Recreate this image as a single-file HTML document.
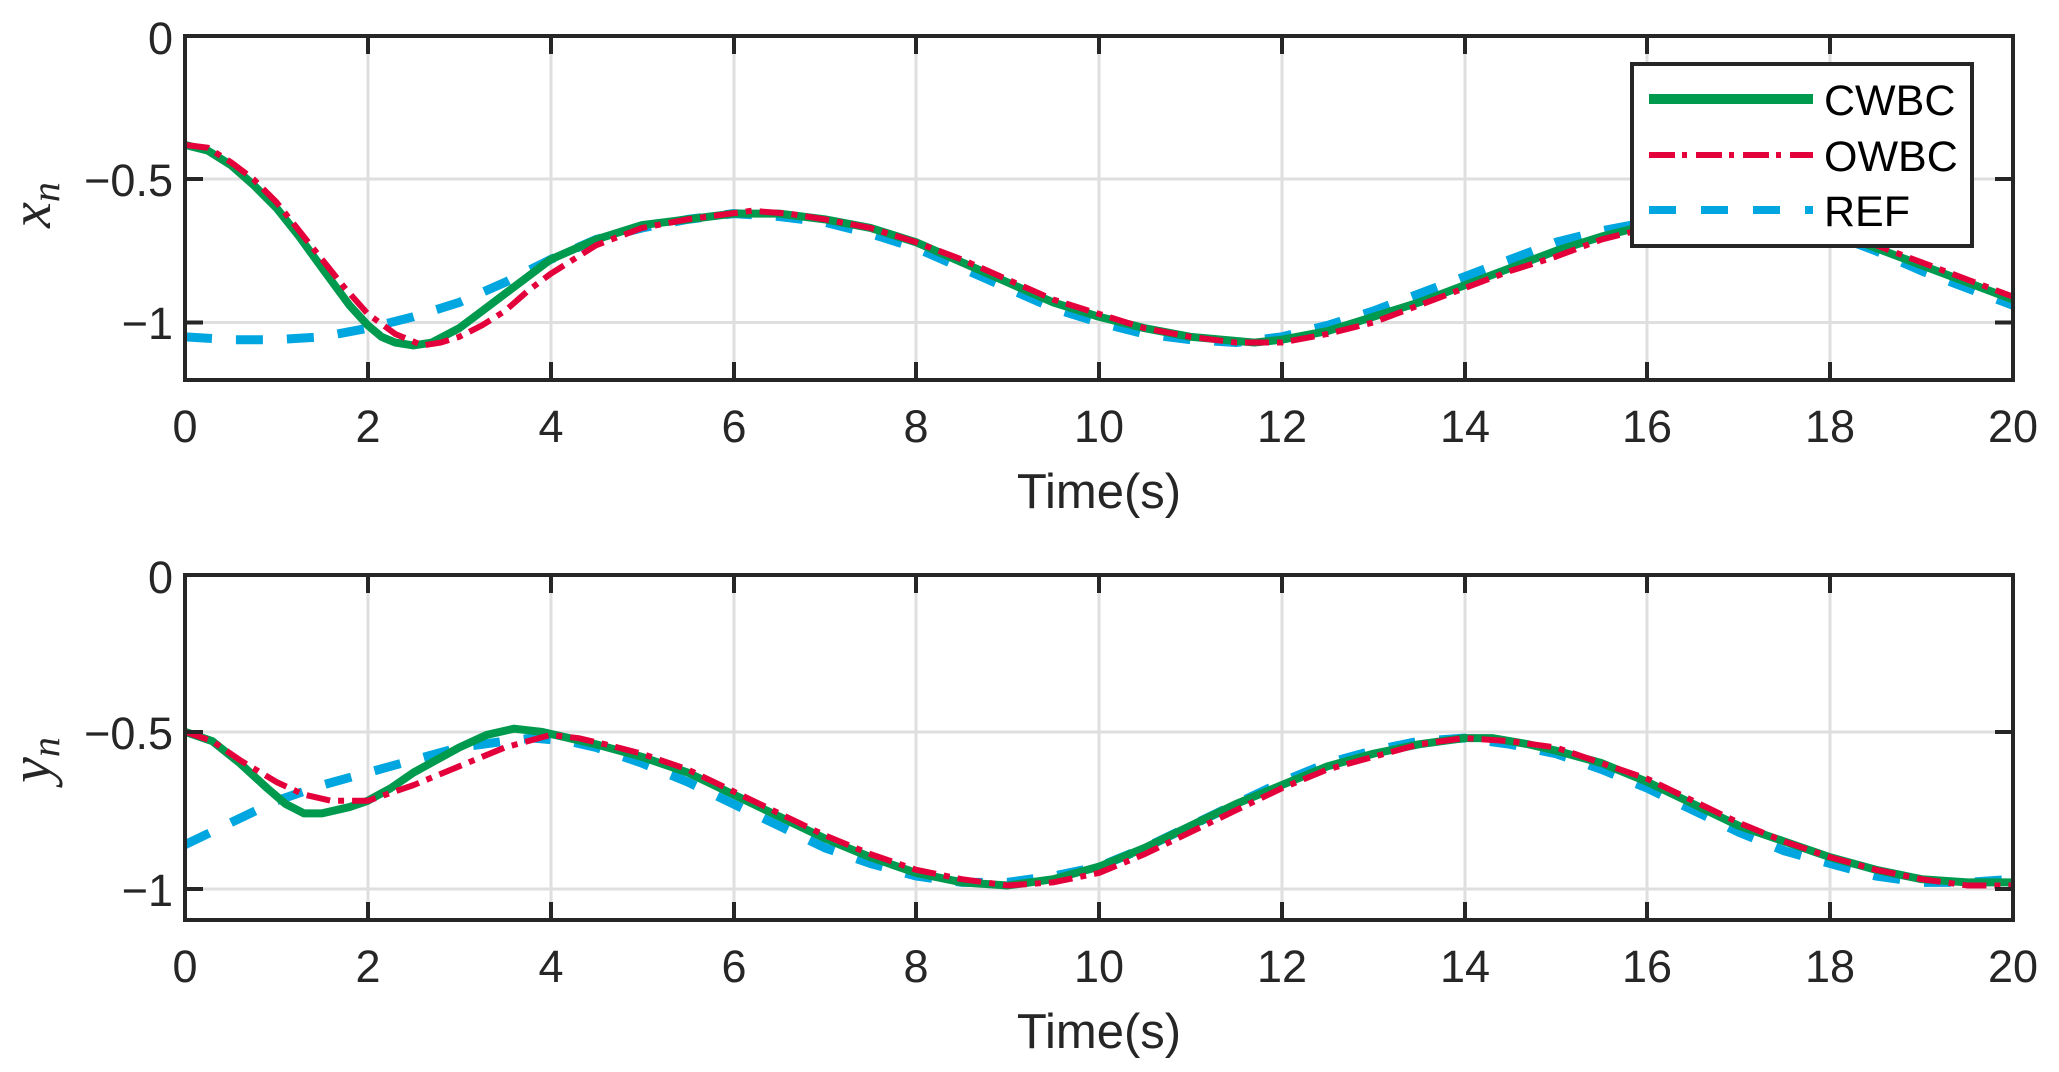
<!DOCTYPE html>
<html><head><meta charset="utf-8"><style>
html,body{margin:0;padding:0;background:#fff;}
svg{display:block;}
text{font-family:"Liberation Sans",Arial,sans-serif;fill:#262626;}
</style></head><body>
<svg width="2059" height="1072" viewBox="0 0 2059 1072" xmlns="http://www.w3.org/2000/svg">
<rect width="2059" height="1072" fill="#fff"/>
<!-- ===== Upper plot ===== -->
<g stroke="#dfdfdf" stroke-width="3">
<line x1="368" y1="36" x2="368" y2="380"/><line x1="551" y1="36" x2="551" y2="380"/><line x1="734" y1="36" x2="734" y2="380"/><line x1="916" y1="36" x2="916" y2="380"/><line x1="1099" y1="36" x2="1099" y2="380"/><line x1="1282" y1="36" x2="1282" y2="380"/><line x1="1465" y1="36" x2="1465" y2="380"/><line x1="1647" y1="36" x2="1647" y2="380"/><line x1="1830" y1="36" x2="1830" y2="380"/>
<line x1="185" y1="179" x2="2013" y2="179"/><line x1="185" y1="322.5" x2="2013" y2="322.5"/>
</g>
<g fill="none" stroke-linejoin="round" transform="matrix(91.4 0 0 -286.5 185 36)">
<polyline vector-effect="non-scaling-stroke" stroke="#00a6e0" stroke-width="9" stroke-dasharray="27 24" points="0,-1.05 0.5,-1.06 1,-1.06 1.5,-1.05 2,-1.02 2.5,-0.98 3,-0.93 3.5,-0.86 4,-0.78 4.5,-0.71 5,-0.67 5.5,-0.64 6,-0.62 6.5,-0.63 7,-0.65 7.5,-0.69 8,-0.74 8.5,-0.81 9,-0.88 9.5,-0.95 10,-1.0 10.5,-1.04 11,-1.06 11.5,-1.07 12,-1.05 12.5,-1.01 13,-0.96 13.5,-0.9 14,-0.84 14.5,-0.78 15,-0.72 15.5,-0.68 16,-0.65 16.5,-0.63 17,-0.63 17.5,-0.65 18,-0.69 18.5,-0.75 19,-0.82 19.5,-0.88 20,-0.94"/>
<polyline vector-effect="non-scaling-stroke" stroke="#009a4e" stroke-width="8" points="0,-0.38 0.25,-0.4 0.5,-0.45 0.75,-0.52 1,-0.6 1.25,-0.7 1.5,-0.81 1.8,-0.94 2,-1.01 2.15,-1.05 2.3,-1.07 2.5,-1.08 2.7,-1.07 3,-1.02 3.25,-0.96 3.5,-0.9 3.75,-0.84 4,-0.78 4.5,-0.71 5,-0.66 5.5,-0.64 6,-0.62 6.5,-0.62 7,-0.64 7.5,-0.67 8,-0.72 8.5,-0.79 9,-0.86 9.5,-0.93 10,-0.98 10.5,-1.02 11,-1.05 11.7,-1.07 12,-1.06 12.5,-1.03 13,-0.98 13.5,-0.93 14,-0.87 14.5,-0.81 15,-0.75 15.5,-0.7 16,-0.66 16.5,-0.63 17,-0.63 17.5,-0.64 18,-0.68 18.5,-0.74 19,-0.8 19.5,-0.86 20,-0.92"/>
<polyline vector-effect="non-scaling-stroke" stroke="#e4003a" stroke-width="6" stroke-dasharray="24 8 6 8" points="0,-0.38 0.25,-0.39 0.5,-0.44 0.75,-0.5 1,-0.58 1.25,-0.68 1.5,-0.78 1.75,-0.88 2,-0.97 2.3,-1.04 2.6,-1.08 2.8,-1.07 3,-1.05 3.25,-1.01 3.5,-0.96 3.75,-0.89 4,-0.83 4.5,-0.73 5,-0.67 5.5,-0.64 6.2,-0.61 6.6,-0.62 7,-0.64 7.5,-0.67 8,-0.72 8.5,-0.78 9,-0.85 9.5,-0.92 10,-0.97 10.5,-1.02 11,-1.05 11.5,-1.07 12,-1.07 12.5,-1.04 13,-1.0 13.5,-0.94 14,-0.88 14.5,-0.82 15,-0.77 15.5,-0.71 16,-0.67 16.5,-0.64 17,-0.63 17.5,-0.64 18,-0.67 18.5,-0.73 19,-0.79 19.5,-0.85 20,-0.91"/>
</g>
<rect x="185" y="36" width="1828" height="344" fill="none" stroke="#262626" stroke-width="4"/>
<g stroke="#262626" stroke-width="4">
<line x1="368" y1="36" x2="368" y2="54"/><line x1="551" y1="36" x2="551" y2="54"/><line x1="734" y1="36" x2="734" y2="54"/><line x1="916" y1="36" x2="916" y2="54"/><line x1="1099" y1="36" x2="1099" y2="54"/><line x1="1282" y1="36" x2="1282" y2="54"/><line x1="1465" y1="36" x2="1465" y2="54"/><line x1="1647" y1="36" x2="1647" y2="54"/><line x1="1830" y1="36" x2="1830" y2="54"/>
<line x1="368" y1="380" x2="368" y2="362"/><line x1="551" y1="380" x2="551" y2="362"/><line x1="734" y1="380" x2="734" y2="362"/><line x1="916" y1="380" x2="916" y2="362"/><line x1="1099" y1="380" x2="1099" y2="362"/><line x1="1282" y1="380" x2="1282" y2="362"/><line x1="1465" y1="380" x2="1465" y2="362"/><line x1="1647" y1="380" x2="1647" y2="362"/><line x1="1830" y1="380" x2="1830" y2="362"/>
<line x1="185" y1="179" x2="203" y2="179"/><line x1="185" y1="322.5" x2="203" y2="322.5"/>
<line x1="2013" y1="179" x2="1995" y2="179"/><line x1="2013" y1="322.5" x2="1995" y2="322.5"/>
</g>
<g font-size="45" text-anchor="middle">
<text x="185" y="442">0</text><text x="368" y="442">2</text><text x="551" y="442">4</text><text x="734" y="442">6</text><text x="916" y="442">8</text><text x="1099" y="442">10</text><text x="1282" y="442">12</text><text x="1465" y="442">14</text><text x="1647" y="442">16</text><text x="1830" y="442">18</text><text x="2013" y="442">20</text>
</g>
<g font-size="45" text-anchor="end">
<text x="173" y="54">0</text><text x="173" y="196">−0.5</text><text x="173" y="339">−1</text>
</g>
<text x="1099" y="508" font-size="49" text-anchor="middle">Time(s)</text>
<text transform="translate(50,205) rotate(-90)" text-anchor="middle" font-style="italic" font-size="58" style="font-family:'Liberation Serif',serif">x<tspan font-size="40" dy="9">n</tspan></text>
<!-- legend -->
<rect x="1632" y="64" width="340" height="182" fill="#fff" stroke="#262626" stroke-width="4"/>
<line x1="1649" y1="99" x2="1813" y2="99" stroke="#009a4e" stroke-width="10"/>
<line x1="1649" y1="155" x2="1813" y2="155" stroke="#e4003a" stroke-width="6" stroke-dasharray="26 7 5 9"/>
<line x1="1649" y1="210" x2="1813" y2="210" stroke="#00a6e0" stroke-width="8" stroke-dasharray="27 25"/>
<g font-size="43"><text x="1824" y="115" style="fill:#000">CWBC</text><text x="1824" y="171" style="fill:#000">OWBC</text><text x="1824" y="226" style="fill:#000">REF</text></g>

<!-- ===== Lower plot ===== -->
<g stroke="#dfdfdf" stroke-width="3">
<line x1="368" y1="575" x2="368" y2="920"/><line x1="551" y1="575" x2="551" y2="920"/><line x1="734" y1="575" x2="734" y2="920"/><line x1="916" y1="575" x2="916" y2="920"/><line x1="1099" y1="575" x2="1099" y2="920"/><line x1="1282" y1="575" x2="1282" y2="920"/><line x1="1465" y1="575" x2="1465" y2="920"/><line x1="1647" y1="575" x2="1647" y2="920"/><line x1="1830" y1="575" x2="1830" y2="920"/>
<line x1="185" y1="732" x2="2013" y2="732"/><line x1="185" y1="889" x2="2013" y2="889"/>
</g>
<g fill="none" stroke-linejoin="round" transform="matrix(91.4 0 0 -313.6 185 575)">
<polyline vector-effect="non-scaling-stroke" stroke="#00a6e0" stroke-width="9" stroke-dasharray="27 24" points="0,-0.86 0.5,-0.79 1,-0.72 1.5,-0.67 2,-0.63 2.5,-0.59 3,-0.55 3.5,-0.53 3.8,-0.52 4.2,-0.53 4.5,-0.55 5,-0.6 5.5,-0.66 6,-0.73 6.5,-0.8 7,-0.87 7.5,-0.92 8,-0.96 8.5,-0.98 9,-0.98 9.5,-0.96 10,-0.93 10.5,-0.87 11,-0.8 11.5,-0.73 12,-0.66 12.5,-0.6 13,-0.56 13.5,-0.53 14,-0.52 14.5,-0.54 15,-0.57 15.5,-0.62 16,-0.68 16.5,-0.75 17,-0.82 17.5,-0.88 18,-0.92 18.5,-0.96 19,-0.98 19.5,-0.98 20,-0.97"/>
<polyline vector-effect="non-scaling-stroke" stroke="#009a4e" stroke-width="8" points="0,-0.5 0.3,-0.53 0.6,-0.6 0.9,-0.68 1.1,-0.73 1.3,-0.76 1.5,-0.76 1.8,-0.74 2,-0.72 2.25,-0.68 2.5,-0.63 2.75,-0.59 3,-0.55 3.3,-0.51 3.6,-0.49 3.9,-0.5 4.2,-0.52 4.5,-0.54 5,-0.58 5.5,-0.63 6,-0.7 6.5,-0.77 7,-0.84 7.5,-0.9 8,-0.95 8.5,-0.98 9,-0.99 9.5,-0.97 10,-0.93 10.5,-0.87 11,-0.8 11.5,-0.73 12,-0.67 12.5,-0.61 13,-0.57 13.5,-0.54 14,-0.52 14.3,-0.52 14.7,-0.54 15,-0.56 15.5,-0.6 16,-0.66 16.5,-0.73 17,-0.8 17.5,-0.85 18,-0.9 18.5,-0.94 19,-0.97 19.5,-0.98 20,-0.98"/>
<polyline vector-effect="non-scaling-stroke" stroke="#e4003a" stroke-width="6" stroke-dasharray="24 8 6 8" points="0,-0.5 0.3,-0.53 0.6,-0.59 1,-0.66 1.3,-0.7 1.6,-0.72 2,-0.72 2.5,-0.67 3,-0.61 3.5,-0.55 4,-0.51 4.3,-0.52 4.6,-0.54 5,-0.57 5.5,-0.62 6,-0.69 6.5,-0.76 7,-0.83 7.5,-0.89 8,-0.94 8.5,-0.97 9,-0.99 9.5,-0.98 10,-0.95 10.5,-0.89 11,-0.82 11.5,-0.75 12,-0.68 12.5,-0.62 13,-0.58 13.5,-0.54 14,-0.52 14.5,-0.53 15,-0.55 15.5,-0.6 16,-0.65 16.5,-0.72 17,-0.79 17.5,-0.85 18,-0.9 18.5,-0.94 19,-0.97 19.5,-0.99 20,-0.99"/>
</g>
<rect x="185" y="575" width="1828" height="345" fill="none" stroke="#262626" stroke-width="4"/>
<g stroke="#262626" stroke-width="4">
<line x1="368" y1="575" x2="368" y2="593"/><line x1="551" y1="575" x2="551" y2="593"/><line x1="734" y1="575" x2="734" y2="593"/><line x1="916" y1="575" x2="916" y2="593"/><line x1="1099" y1="575" x2="1099" y2="593"/><line x1="1282" y1="575" x2="1282" y2="593"/><line x1="1465" y1="575" x2="1465" y2="593"/><line x1="1647" y1="575" x2="1647" y2="593"/><line x1="1830" y1="575" x2="1830" y2="593"/>
<line x1="368" y1="920" x2="368" y2="902"/><line x1="551" y1="920" x2="551" y2="902"/><line x1="734" y1="920" x2="734" y2="902"/><line x1="916" y1="920" x2="916" y2="902"/><line x1="1099" y1="920" x2="1099" y2="902"/><line x1="1282" y1="920" x2="1282" y2="902"/><line x1="1465" y1="920" x2="1465" y2="902"/><line x1="1647" y1="920" x2="1647" y2="902"/><line x1="1830" y1="920" x2="1830" y2="902"/>
<line x1="185" y1="732" x2="203" y2="732"/><line x1="185" y1="889" x2="203" y2="889"/>
<line x1="2013" y1="732" x2="1995" y2="732"/><line x1="2013" y1="889" x2="1995" y2="889"/>
</g>
<g font-size="45" text-anchor="middle">
<text x="185" y="982">0</text><text x="368" y="982">2</text><text x="551" y="982">4</text><text x="734" y="982">6</text><text x="916" y="982">8</text><text x="1099" y="982">10</text><text x="1282" y="982">12</text><text x="1465" y="982">14</text><text x="1647" y="982">16</text><text x="1830" y="982">18</text><text x="2013" y="982">20</text>
</g>
<g font-size="45" text-anchor="end">
<text x="173" y="593">0</text><text x="173" y="749">−0.5</text><text x="173" y="906">−1</text>
</g>
<text x="1099" y="1048" font-size="49" text-anchor="middle">Time(s)</text>
<text transform="translate(50,760) rotate(-90)" text-anchor="middle" font-style="italic" font-size="58" style="font-family:'Liberation Serif',serif">y<tspan font-size="40" dy="9">n</tspan></text>
</svg>
</body></html>
